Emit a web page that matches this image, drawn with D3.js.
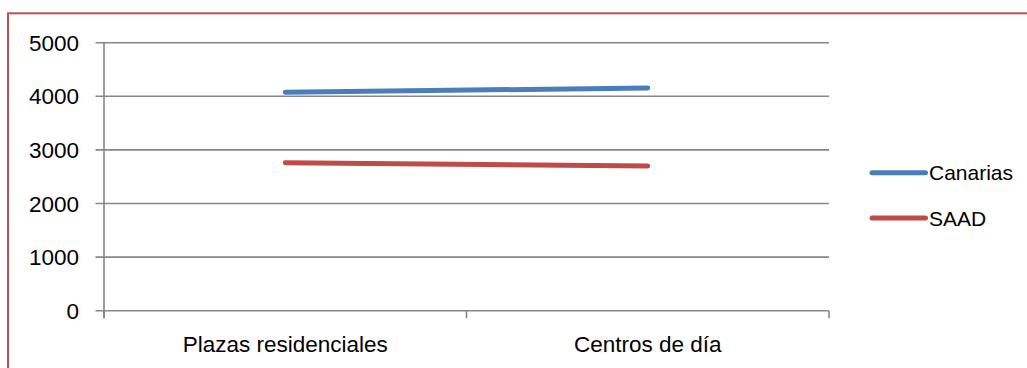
<!DOCTYPE html>
<html><head><meta charset="utf-8">
<script src="https://cdn.jsdelivr.net/npm/d3@7"></script>
<style>body{margin:0;background:#fff}svg{display:block}</style>
</head><body>
<script>
const categories = ["Plazas residenciales", "Centros de día"];
const canarias = [4075, 4155];
const saad = [2761, 2700];
const yTicks = [0, 1000, 2000, 3000, 4000, 5000];
const seriesNames = ["Canarias", "SAAD"];
const seriesColors = ["#4a7ebb", "#be4b48"];

const W = 1027, H = 368;
const svg = d3.select("body").append("svg").attr("width", W).attr("height", H);
const font = "'Liberation Sans', Arial, sans-serif";

// outer border (extends beyond image right/bottom)
svg.append("rect").attr("x", 8).attr("y", 13.3).attr("width", 1100).attr("height", 500)
  .attr("fill", "none").attr("stroke", "#c0504d").attr("stroke-width", 2);

const x0 = 104, x1 = 829, yTop = 42.7, yBot = 310.7;
const x = d3.scaleBand().domain(categories).range([x0, x1]);
const y = d3.scaleLinear().domain([0, 5000]).range([yBot, yTop]);
const grid = "#868686";

// gridlines
svg.append("g").selectAll("line").data(yTicks).join("line")
  .attr("x1", x0 - 8.5).attr("x2", x1).attr("y1", d => y(d)).attr("y2", d => y(d))
  .attr("stroke", grid).attr("stroke-width", 1.6);

// y axis line
svg.append("line").attr("x1", x0).attr("x2", x0).attr("y1", yTop).attr("y2", yBot + 7.5)
  .attr("stroke", grid).attr("stroke-width", 1.6);

// category ticks
const catEdges = [x0, ...categories.map(c => x(c) + x.bandwidth())];
svg.append("g").selectAll("line").data(catEdges).join("line")
  .attr("x1", d => d).attr("x2", d => d).attr("y1", yBot).attr("y2", yBot + 7.5)
  .attr("stroke", grid).attr("stroke-width", 1.6);

// y labels
svg.append("g").selectAll("text").data(yTicks).join("text")
  .attr("x", 79).attr("y", d => y(d)).attr("dy", "0.36em").attr("text-anchor", "end")
  .attr("font-family", font).attr("font-size", 22.5).attr("fill", "#000").text(d => d);

// x labels
svg.append("g").selectAll("text").data(categories).join("text")
  .attr("x", d => x(d) + x.bandwidth() / 2).attr("y", 351.5).attr("text-anchor", "middle")
  .attr("font-family", font).attr("font-size", 22.5).attr("fill", "#000").text(d => d);

// lines
const line = d3.line().x((d, i) => x(categories[i]) + x.bandwidth() / 2).y(d => y(d));
[canarias, saad].forEach((vals, i) => {
  svg.append("path").attr("d", line(vals)).attr("fill", "none")
    .attr("stroke", seriesColors[i]).attr("stroke-width", 5).attr("stroke-linecap", "round");
});

// legend
const legY = [172.7, 218];
seriesNames.forEach((n, i) => {
  svg.append("line").attr("x1", 872).attr("x2", 925.5).attr("y1", legY[i]).attr("y2", legY[i])
    .attr("stroke", seriesColors[i]).attr("stroke-width", 5).attr("stroke-linecap", "round");
  svg.append("text").attr("x", 929).attr("y", legY[i]).attr("dy", "0.36em")
    .attr("font-family", font).attr("font-size", 21).attr("fill", "#000").text(n);
});
</script>
</body></html>
